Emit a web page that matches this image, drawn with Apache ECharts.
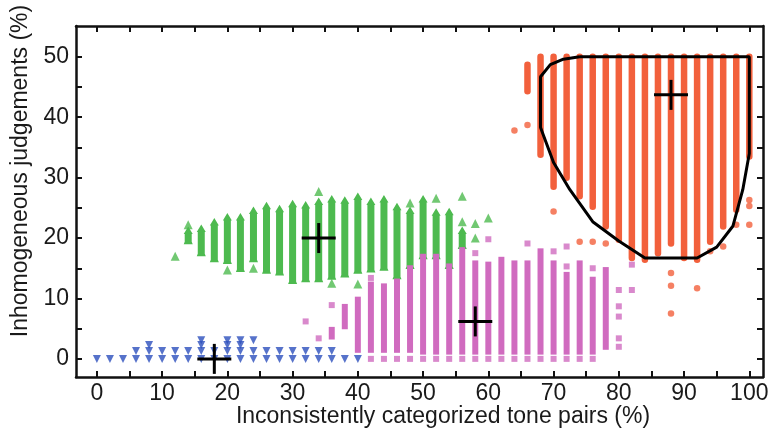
<!DOCTYPE html>
<html>
<head>
<meta charset="utf-8">
<script src="https://cdn.jsdelivr.net/npm/echarts@6/dist/echarts.min.js"></script>
<style>
html,body{margin:0;padding:0;background:#fff;}
#main{width:773px;height:443px;}
</style>
</head>
<body>
<div id="main"></div>
<script>
// ticks / labels
var xLabelValues = [0,10,20,30,40,50,60,70,80,90,100];
var xTickValues = [0,5,10,15,20,25,30,35,40,45,50,55,60,65,70,75,80,85,90,95,100];
var yLabelValues = [0,10,20,30,40,50];
var yTickValues = [0,5,10,15,20,25,30,35,40,45,50];

// blue: single points (x, y)
var bluePoints = [
    [0,0],[2,0],[4,0],[6,0],[8,0],[10,0],[12,0],[14,0],[16,0],[18,0],[20,0],
    [22,0],[24,0],[26,0],[28,0],[30,0],[32,0],[34,0],[36,0],[38,0],[40,0],
    [6,1.3],[8,1.3],[10,1.3],[12,1.3],[14,1.3],[16,1.3],[18,1.3],[20,1.3],
    [22,1.3],[24,1.3],[26,1.3],[28,1.3],[30,1.3],[32,1.3],[34,1.3],[36,1.3],
    [8,2.3],[16,2.3],[16,3.1],[20,2.3],[20,3.1],[22,2.3],[22,3.1],[24,3.1]
];

// green: columns [x, yLow, yHigh] + loose points
var greenCols = [
    [14,19.4,21.1],[16,17.4,21.4],[18,16.4,22.5],[20,16.1,23.3],[22,14.8,23.3],
    [24,16.4,24.4],[26,14.5,25.2],[28,14.2,24.7],[30,12.8,25.5],[32,13.1,25.3],
    [34,13.1,25.9],[36,13.5,26.3],[38,13.9,26.1],[40,14.5,26.7],[42,14.7,25.9],
    [44,15.0,26.3],[46,13.6,25.0],[48,15.3,24.4],[50,16.9,26.3],[52,16.9,24.1],
    [54,15.3,24.2],[56,18.6,21.1]
];
var greenPoints = [
    [12,17.0],[14,22.2],[20,14.7],[24,15.0],[34,27.7],[36,12.5],[40,12.4],
    [48,25.8],[52,26.6],[56,26.9],[56,22.7],[58,22.4],[58,20.0],[60,23.3]
];

// pink
var pinkCols = [
    [36,3.7,4.8],[38,5.4,8.6],[40,1.5,9.8],[42,1.5,12.3],[44,1.5,12.0],[46,1.5,12.8],
    [48,1.5,15.0],[50,1.2,16.9],[52,1.2,16.9],[54,1.2,15.3],[56,1.2,18.0],
    [58,1.2,15.8],[60,1.2,15.6],[62,1.2,16.4],[64,1.2,15.8],[66,1.2,15.8],
    [68,1.2,17.8],[70,1.2,15.8],[72,1.2,13.9],[74,1.2,15.8],[76,1.2,13.1],
    [78,2.0,14.7]
];
var pinkPoints = [
    [32,6.2],[34,3.4],[36,8.9],[42,13.4],[58,17.5],[60,19.8],[66,19.1],[70,17.8],
    [72,18.6],[72,15.3],[76,15.0],[80,11.4],[80,8.7],[80,7.0],[80,3.4],[80,2.0],
    [82,15.6],[82,11.4],
    [42,0],[44,0],[46,0],[48,0],[50,0],[52,0],[54,0],[56,0],[58,0],[60,0],
    [62,0],[64,0],[66,0],[68,0],[70,0],[72,0],[74,0],[76,0]
];

// red
var redCols = [
    [66,44.3,48.7],[68,33.8,50],[70,28.5,50],[72,30.0,50],[74,26.9,50],[76,25.2,50],
    [78,21.9,50],[80,19.7,50],[82,16.7,50],[84,16.4,50],[86,17.5,50],[88,19.1,50],
    [90,16.7,50],[92,16.4,50],[94,19.4,50],[96,21.9,50],[98,24.7,50],[100,33.5,50]
];
var redPoints = [
    [64,37.8],[66,38.7],[70,24.4],[74,19.4],[76,19.4],[78,19.1],[88,14.2],[88,12.1],
    [88,7.5],[92,11.7],[94,17.8],[96,18.6],[98,22.2],[100,26.3],[100,25.3],[100,22.2]
];

// hull around red cluster
var hull = [
    [74,50],[100,50],[100,34],[99,28],[97.5,22],[95,18.5],[92,16.7],[84,16.7],
    [80,19.5],[76,22.7],[72.5,28],[70,32.5],[68,38.3],[68,46.7],[69.5,48.7],
    [71.5,49.6],[74,50]
];

// centroids
var centers = [[18,0],[34,20],[58,6.2],[88,43.7]];

var BLUE = '#2c4fbd', GREEN = '#4dba4f', PINK = '#d06bbf', RED = '#f2603c';

function columnSeries(data, color, shape){
    return {
        type: 'custom',
        data: data,
        encode: {x: 0, y: [1, 2]},
        silent: true,
        renderItem: function(params, api){
            var x = api.value(0);
            var top = api.coord([x, api.value(2)]);
            var bot = api.coord([x, api.value(1)]);
            if (shape === 'circle') {
                return {type: 'line', shape: {x1: top[0], y1: top[1], x2: bot[0], y2: bot[1]},
                    style: {stroke: color, lineWidth: 6.5, lineCap: 'round'}};
            }
            if (shape === 'rect') {
                return {type: 'rect', shape: {x: top[0] - 3, y: top[1] - 3, width: 6, height: bot[1] - top[1] + 6},
                    style: {fill: color}};
            }
            // stacked triangles: column with a tip at the top
            var w = 9, b = 3.5;
            return {type: 'polygon', shape: {points: [
                [top[0], top[1] - 5], [top[0] + w/2, top[1] + 2.5], [top[0] + b, top[1] + 2.5],
                [bot[0] + b, bot[1]], [bot[0] + w/2, bot[1] + 2.5], [bot[0] - w/2, bot[1] + 2.5],
                [bot[0] - b, bot[1]], [top[0] - b, top[1] + 2.5], [top[0] - w/2, top[1] + 2.5]
            ]}, style: {fill: color}};
        }
    };
}

var chart = echarts.init(document.getElementById('main'), null, {renderer: 'canvas'});
var axisLine = {show: true, onZero: false, lineStyle: {color: '#111', width: 2.5}};
var FONT = 'Liberation Sans';
var labelFont = {fontFamily: FONT, fontSize: 23, color: '#1a1a1a'};

var option = {
    backgroundColor: '#fff',
    animation: false,
    grid: {left: 76, top: 26, right: 10, bottom: 66, containLabel: false},
    xAxis: [{
        type: 'value', min: -3.2, max: 102.1, position: 'bottom',
        axisLine: axisLine,
        axisTick: {show: true, inside: true, length: 6, lineStyle: {color: '#111', width: 2}, customValues: xTickValues},
        axisLabel: Object.assign({margin: 5, customValues: xLabelValues}, labelFont),
        splitLine: {show: false}
    }, {
        type: 'value', min: -3.2, max: 102.1, position: 'top',
        axisLine: axisLine,
        axisTick: {show: true, inside: true, length: 6, lineStyle: {color: '#111', width: 2}, customValues: xTickValues},
        axisLabel: {show: false},
        splitLine: {show: false}
    }],
    yAxis: [{
        type: 'value', min: -3, max: 55.1, position: 'left',
        axisLine: axisLine,
        axisTick: {show: true, inside: true, length: 6, lineStyle: {color: '#111', width: 2}, customValues: yTickValues},
        axisLabel: Object.assign({margin: 7, customValues: yLabelValues}, labelFont),
        splitLine: {show: false}
    }, {
        type: 'value', min: -3, max: 55.1, position: 'right',
        axisLine: axisLine,
        axisTick: {show: true, inside: true, length: 6, lineStyle: {color: '#111', width: 2}, customValues: yTickValues},
        axisLabel: {show: false},
        splitLine: {show: false}
    }],
    graphic: [{
        type: 'text', x: 21, y: 171, rotation: Math.PI / 2,
        style: {text: 'Inhomogeneous judgements (%)', fontFamily: FONT, fontSize: 23,
            fill: '#1a1a1a', align: 'center', verticalAlign: 'middle'}
    }, {
        type: 'text', x: 443, y: 417,
        style: {text: 'Inconsistently categorized tone pairs (%)', fontFamily: FONT, fontSize: 23,
            fill: '#1a1a1a', align: 'center', verticalAlign: 'middle'}
    }],
    series: [
        columnSeries(redCols, RED, 'circle'),
        {type: 'scatter', data: redPoints, symbol: 'circle', symbolSize: 6.5, itemStyle: {color: RED}, silent: true},
        columnSeries(greenCols, GREEN, 'triangle'),
        {type: 'scatter', data: greenPoints, symbol: 'triangle', symbolSize: 9, itemStyle: {color: GREEN}, silent: true},
        columnSeries(pinkCols, PINK, 'rect'),
        {type: 'scatter', data: pinkPoints, symbol: 'rect', symbolSize: 6, itemStyle: {color: PINK}, silent: true},
        {type: 'scatter', data: bluePoints, symbol: 'triangle', symbolRotate: 180, symbolSize: 8, itemStyle: {color: BLUE}, silent: true},
        {
            type: 'line', data: hull, showSymbol: false, silent: true, z: 5,
            lineStyle: {color: '#000', width: 3}
        },
        {
            type: 'custom', data: centers, silent: true, z: 6,
            renderItem: function(params, api){
                var p = api.coord([api.value(0), api.value(1)]);
                return {type: 'group', children: [
                    {type: 'line', shape: {x1: p[0] - 17, y1: p[1], x2: p[0] + 17, y2: p[1]}, style: {stroke: '#000', lineWidth: 3}},
                    {type: 'line', shape: {x1: p[0], y1: p[1] - 15, x2: p[0], y2: p[1] + 15}, style: {stroke: '#000', lineWidth: 3}}
                ]};
            }
        }
    ]
};
chart.setOption(option);
</script>
</body>
</html>
